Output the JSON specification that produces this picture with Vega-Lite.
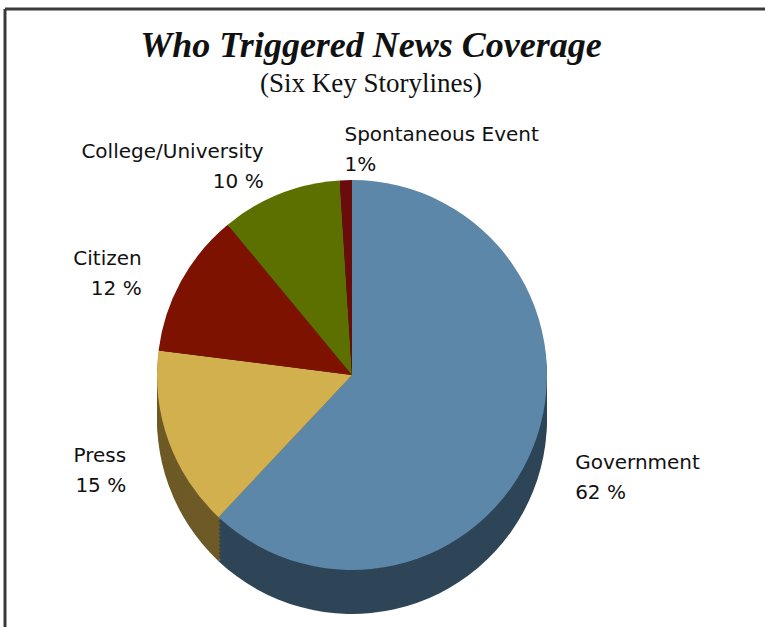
{
  "$schema": "https://vega.github.io/schema/vega-lite/v6.json",
  "autosize": "none",
  "width": 760,
  "height": 618,
  "padding": {"left": 5, "top": 9, "right": 0, "bottom": 0},
  "background": "white",
  "config": {"view": {"stroke": null}},
  "title": {
    "text": "Who Triggered News Coverage",
    "subtitle": "(Six Key Storylines)",
    "font": "Liberation Serif",
    "fontStyle": "italic",
    "fontWeight": "bold",
    "fontSize": 36,
    "color": "#111111",
    "subtitleFont": "Liberation Serif",
    "subtitleFontSize": 27,
    "subtitleColor": "#111111",
    "subtitlePadding": 6,
    "anchor": "middle",
    "frame": "group",
    "dx": -14,
    "offset": -90
  },
  "data": {
    "values": [
      {"category": "Government", "value": 62},
      {"category": "Press", "value": 15},
      {"category": "Citizen", "value": 12},
      {"category": "College/University", "value": 10},
      {"category": "Spontaneous Event", "value": 1}
    ]
  },
  "layer": [
    {
      "data": {"values": [{"edge": "left"}]},
      "mark": {"type": "rule", "color": "#3a3a3a", "strokeWidth": 3},
      "encoding": {"x": {"value": 0}}
    },
    {
      "data": {"values": [{"edge": "top"}]},
      "mark": {"type": "rule", "color": "#3a3a3a", "strokeWidth": 3},
      "encoding": {"y": {"value": 0}}
    },
    {
      "encoding": {
        "theta": {"field": "value", "type": "quantitative", "stack": true, "scale": {"domain": [0, 100]}},
        "order": {"field": "value", "sort": "descending"},
        "color": {"field": "category", "type": "nominal", "legend": null, "scale": {"domain": ["Government", "Press", "Citizen", "College/University", "Spontaneous Event"], "range": ["#2e4557", "#6e5a26", "#3e0900", "#2f3900", "#360606"]}}
      },
      "layer": [
        {"mark": {"type": "arc", "x": 347, "y": 410, "outerRadius": 195}},
        {"mark": {"type": "arc", "x": 347, "y": 406, "outerRadius": 195}},
        {"mark": {"type": "arc", "x": 347, "y": 402, "outerRadius": 195}},
        {"mark": {"type": "arc", "x": 347, "y": 398, "outerRadius": 195}},
        {"mark": {"type": "arc", "x": 347, "y": 394, "outerRadius": 195}},
        {"mark": {"type": "arc", "x": 347, "y": 390, "outerRadius": 195}},
        {"mark": {"type": "arc", "x": 347, "y": 386, "outerRadius": 195}},
        {"mark": {"type": "arc", "x": 347, "y": 382, "outerRadius": 195}},
        {"mark": {"type": "arc", "x": 347, "y": 378, "outerRadius": 195}},
        {"mark": {"type": "arc", "x": 347, "y": 374, "outerRadius": 195}},
        {"mark": {"type": "arc", "x": 347, "y": 370, "outerRadius": 195}},
        {
          "mark": {"type": "arc", "x": 347, "y": 366, "outerRadius": 195},
          "encoding": {"color": {"field": "category", "type": "nominal", "legend": null, "scale": {"domain": ["Government", "Press", "Citizen", "College/University", "Spontaneous Event"], "range": ["#5c87a8", "#d3b04e", "#7d1200", "#5c7000", "#6b0c0c"]}}}
        },
        {
          "transform": [{"calculate": "datum.category + '\\n' + datum.value + (datum.value < 5 ? '%' : ' %')", "as": "label"}],
          "mark": {
            "type": "text",
            "x": 347,
            "y": 366,
            "radius": 240,
            "align": {"expr": "datum.category == 'Government' || datum.category == 'Spontaneous Event' ? 'left' : 'right'"},
            "baseline": "middle",
            "lineBreak": "\n",
            "lineHeight": 30,
            "font": "DejaVu Sans",
            "fontSize": 20,
            "color": "#111111"
          },
          "encoding": {"text": {"field": "label"}, "color": {"value": "#111111"}}
        }
      ],
      "resolve": {"scale": {"color": "independent"}}
    }
  ],
  "resolve": {"scale": {"color": "independent"}}
}
